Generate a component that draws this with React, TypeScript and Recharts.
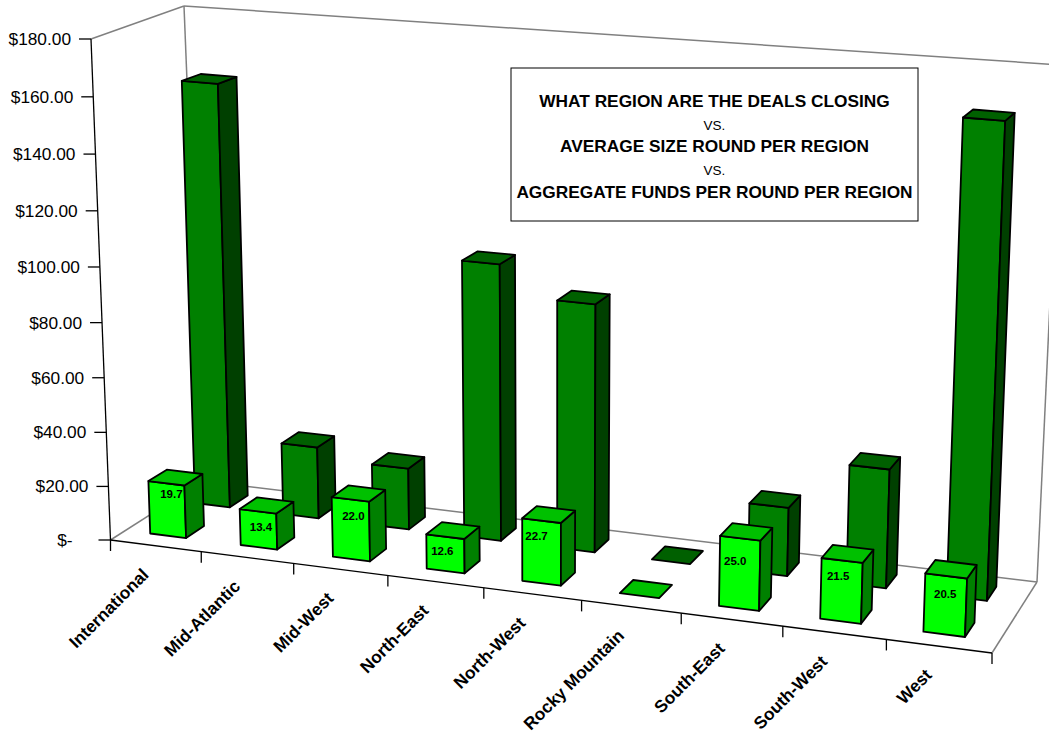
import React from "react";
import { ComposedChart, Bar, XAxis, YAxis } from "recharts";

const regions = ["International", "Mid-Atlantic", "Mid-West", "North-East", "North-West", "Rocky Mountain", "South-East", "South-West", "West"];
const aggregateFunds = [158, 27, 23, 102, 91, 0, 25, 43, 167];
const averageRound = [19.7, 13.4, 22.0, 12.6, 22.7, 0, 25.0, 21.5, 20.5];
const yTicks = [0, 20, 40, 60, 80, 100, 120, 140, 160, 180];
const titleLines = [
  { text: "WHAT REGION ARE THE DEALS CLOSING", bold: true },
  { text: "VS.", bold: false },
  { text: "AVERAGE SIZE ROUND PER REGION", bold: true },
  { text: "VS.", bold: false },
  { text: "AGGREGATE FUNDS PER ROUND PER REGION", bold: true },
];

const chartData = regions.map((region, i) => ({ region, funds: aggregateFunds[i], round: averageRound[i] }));

const W = 1049;
const H = 733;
const FONT = "Arial, 'Liberation Sans', sans-serif";

// plot box that recharts scales into, the 3d box is warped from it
const LEFT = 110.5;
const RIGHT = 992;
const TOP = 39;
const BOTTOM = 540;
const Y_MAX = 180;
const BAR_PX = 39;

type P = [number, number];

// camera: floor corners (0,0) (1,0) (1,1) (0,1), then where the front left axis top lands
const floorQuad: P[] = [[110.5, 540], [992, 653], [1037, 582], [203, 481]];
const axisTop: P = [91, 39];
const VERT_K = -0.042;
// back wall top corners, the camera fit is a few px off there
const wallTopLeft: P = [184, 6];
const wallTopRight: P = [1061, 65];
// value labels sit a little off centre in the original, one nudge per region
const labelNudge: P[] = [[5, -7], [3, -2], [3, -1], [-3, -4], [-5, -3], [0, 0], [-5, 5], [-4, -2], [-1, 0]];

function makeCamera(q: P[], top: P, k: number) {
  const [[x0, y0], [x1, y1], [x2, y2], [x3, y3]] = q;
  const sx = x0 - x1 + x2 - x3;
  const sy = y0 - y1 + y2 - y3;
  const dx1 = x1 - x2;
  const dx2 = x3 - x2;
  const dy1 = y1 - y2;
  const dy2 = y3 - y2;
  const den = dx1 * dy2 - dx2 * dy1;
  const g = (sx * dy2 - dx2 * sy) / den;
  const h = (dx1 * sy - sx * dy1) / den;
  const a = x1 - x0 + g * x1;
  const b = x3 - x0 + h * x3;
  const d = y1 - y0 + g * y1;
  const e = y3 - y0 + h * y3;
  const cx = top[0] * (1 + k) - x0;
  const cy = top[1] * (1 + k) - y0;
  // u along the categories, w into the depth, t = value / max
  return (u: number, w: number, t: number): P => {
    const m = g * u + h * w + 1 + k * t;
    return [(a * u + b * w + x0 + cx * t) / m, (d * u + e * w + y0 + cy * t) / m];
  };
}

const project = makeCamera(floorQuad, axisTop, VERT_K);

const pts = (list: P[]) => list.map((p) => p[0].toFixed(1) + "," + p[1].toFixed(1)).join(" ");
const toU = (x: number) => (x - LEFT) / (RIGHT - LEFT);
const toT = (h: number) => h / (BOTTOM - TOP);

function makeBox(w0: number, w1: number, shift: number, colors: { front: string; side: string; top: string }, showLabel: boolean) {
  return function Box(props: any) {
    const { x, width, height, value, index } = props;
    const u0 = toU(x + shift);
    const u1 = toU(x + width + shift);
    const t = toT(height);
    const a = project(u0, w0, 0);
    const b = project(u1, w0, 0);
    const c = project(u1, w1, 0);
    const a2 = project(u0, w0, t);
    const b2 = project(u1, w0, t);
    const c2 = project(u1, w1, t);
    const d2 = project(u0, w1, t);
    const val = Array.isArray(value) ? value[1] : value;
    const nudge = labelNudge[index] || [0, 0];
    return (
      <g stroke="#000" strokeWidth={1.8} strokeLinejoin="round">
        {height > 0 && <polygon points={pts([a, b, b2, a2])} fill={colors.front} />}
        {height > 0 && <polygon points={pts([b, c, c2, b2])} fill={colors.side} />}
        <polygon points={pts([a2, b2, c2, d2])} fill={colors.top} />
        {showLabel && val > 0 && (
          <text
            x={(a2[0] + b2[0]) / 2 + nudge[0]}
            y={(a2[1] + b2[1]) / 2 + 22 + nudge[1]}
            textAnchor="middle"
            fontFamily={FONT}
            fontSize={11.5}
            fontWeight="bold"
            fill="#000"
            stroke="none"
          >
            {val.toFixed(1)}
          </text>
        )}
      </g>
    );
  };
}

const BackBox = makeBox(0.66, 0.865, -4, { front: "#008000", side: "#004000", top: "#006000" }, false);
const FrontBox = makeBox(0.155, 0.35, -2, { front: "#00FF00", side: "#008000", top: "#00C000" }, true);

function YTick(props: any) {
  const { y, payload } = props;
  const t = toT(BOTTOM - y);
  const [px, py] = project(0, 0, t);
  const isZero = payload.value === 0;
  return (
    <g>
      <line x1={px - 12} y1={py} x2={px} y2={py} stroke="#000" strokeWidth={1.3} />
      <text x={px - (isZero ? 38 : 20)} y={py + 6} textAnchor="end" fontFamily={FONT} fontSize={17.3} fill="#000">
        {isZero ? "$-" : "$" + payload.value.toFixed(2)}
      </text>
    </g>
  );
}

function XTick(props: any) {
  const { x, payload } = props;
  const [px, py] = project(toU(x), 0, 0);
  return (
    <text
      transform={`translate(${px - 6},${py + 30}) rotate(-45)`}
      textAnchor="end"
      fontFamily={FONT}
      fontSize={17.3}
      fontWeight="bold"
      fill="#000"
    >
      {payload.value}
    </text>
  );
}

function Seg({ a, b, color, sw = 1.5 }: { a: P; b: P; color: string; sw?: number }) {
  return <line x1={a[0]} y1={a[1]} x2={b[0]} y2={b[1]} stroke={color} strokeWidth={sw} />;
}

function Frame() {
  const gray = "#808080";
  return (
    <g>
      <Seg a={project(0, 0, 1)} b={wallTopLeft} color={gray} />
      <Seg a={wallTopLeft} b={wallTopRight} color={gray} />
      <Seg a={wallTopLeft} b={project(0, 1, 0)} color={gray} />
      <Seg a={wallTopRight} b={project(1, 1, 0)} color={gray} />
      <Seg a={project(0, 0, 0)} b={project(0, 1, 0)} color={gray} />
      <Seg a={project(0, 1, 0)} b={project(1, 1, 0)} color={gray} />
      <Seg a={project(1, 0, 0)} b={project(1, 1, 0)} color={gray} />
      <Seg a={project(0, 0, 0)} b={project(0, 0, 1)} color="#000" sw={1.3} />
      <Seg a={project(0, 0, 0)} b={project(1, 0, 0)} color="#000" sw={1.3} />
      {regions.concat("").map((_, i) => {
        const p = project(i / regions.length, 0, 0);
        return <Seg key={i} a={p} b={[p[0], p[1] + 11]} color="#000" sw={1.3} />;
      })}
    </g>
  );
}

function TitleBox() {
  const rows = [101, 125, 146, 170, 192];
  return (
    <g>
      <rect x={511} y={68} width={407} height={153} fill="#fff" stroke="#000" strokeWidth={1} />
      {titleLines.map((l, i) => (
        <text
          key={i}
          x={714.5}
          y={rows[i] + (l.bold ? 6 : 5)}
          textAnchor="middle"
          fontFamily={FONT}
          fontSize={l.bold ? 17.3 : 13.5}
          fontWeight={l.bold ? "bold" : "normal"}
          fill="#000"
        >
          {l.text}
        </text>
      ))}
    </g>
  );
}

export default function App() {
  return (
    <div style={{ position: "absolute", left: 0, top: 0, width: W, height: H, background: "#fff" }}>
      <ComposedChart
        width={W}
        height={H}
        data={chartData}
        margin={{ left: LEFT - 1, right: W - RIGHT, top: TOP, bottom: H - BOTTOM - 1 }}
        barSize={BAR_PX}
        barGap={-BAR_PX}
        style={{ overflow: "hidden" }}
      >
        <Frame />
        <XAxis dataKey="region" height={1} axisLine={false} tickLine={false} interval={0} tick={<XTick />} />
        <YAxis width={1} domain={[0, Y_MAX]} ticks={yTicks} axisLine={false} tickLine={false} tick={<YTick />} />
        <Bar dataKey="funds" shape={<BackBox />} isAnimationActive={false} />
        <Bar dataKey="round" shape={<FrontBox />} isAnimationActive={false} />
        <TitleBox />
      </ComposedChart>
    </div>
  );
}
